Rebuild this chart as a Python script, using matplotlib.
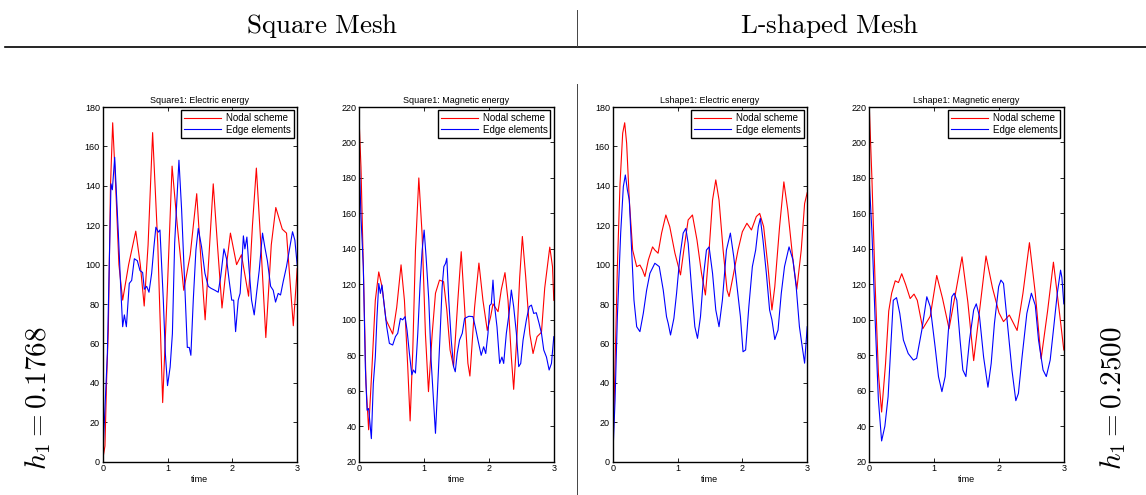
import matplotlib
matplotlib.use("Agg")
import matplotlib.pyplot as plt

plt.rcParams['mathtext.fontset'] = 'cm'
plt.rcParams['font.family'] = ['Liberation Sans', 'DejaVu Sans']

# ---- data (time, energy) ----
# Square mesh, electric energy
sq_el_nodal_t = [0, 0.035, 0.06, 0.087, 0.12, 0.154, 0.2, 0.25, 0.308, 0.4, 0.51, 0.58, 0.64, 0.7,
                 0.77, 0.85, 0.925, 1.0, 1.07, 1.15, 1.25, 1.35, 1.45, 1.52, 1.58, 1.64, 1.705, 1.77,
                 1.84, 1.91, 1.97, 2.065, 2.14, 2.25, 2.31, 2.37, 2.44, 2.516, 2.6, 2.67, 2.77, 2.835,
                 2.94, 3.0]
sq_el_nodal_v = [1, 8, 41, 67, 140, 172, 140, 100, 82, 100, 117, 100, 79, 110, 167, 110, 30, 90,
                 150, 120, 87, 105, 136, 100, 72, 105, 141, 110, 78, 100, 116, 100, 105, 84, 120,
                 149, 110, 63, 110, 129, 118, 116, 69, 98]
sq_el_edge_t = [0, 0.072, 0.128, 0.149, 0.185, 0.241, 0.277, 0.308, 0.334, 0.365, 0.41, 0.447,
                0.488, 0.534, 0.575, 0.616, 0.642, 0.678, 0.714, 0.755, 0.79, 0.82, 0.858, 0.883,
                0.935, 0.966, 1.0, 1.04, 1.075, 1.11, 1.176, 1.217, 1.258, 1.305, 1.335, 1.36,
                1.397, 1.438, 1.474, 1.525, 1.577, 1.628, 1.67, 1.73, 1.782, 1.82, 1.87, 1.91,
                1.95, 1.99, 2.02, 2.05, 2.09, 2.12, 2.17, 2.193, 2.224, 2.255, 2.296, 2.337,
                2.373, 2.414, 2.465, 2.5, 2.54, 2.59, 2.63, 2.666, 2.707, 2.743, 2.784, 2.835,
                2.887, 2.928, 2.964, 3.0]
sq_el_edge_v = [1, 55, 141, 138, 154.5, 116, 89, 68.5, 74.5, 68.5, 90.5, 92, 103, 102, 97, 96,
                87.5, 89, 86, 95.6, 109, 119, 116.5, 117.6, 82, 55, 38.6, 48, 65, 111, 153, 128,
                95.6, 58, 58, 54, 82, 107.5, 118.4, 109, 95.6, 89, 88, 87, 86, 94, 108, 103, 92,
                82, 82, 66, 82, 85.5, 114.6, 108, 114, 99, 82, 74.5, 85.4, 97, 116, 109, 102, 89,
                87, 81, 85.4, 84.6, 91.4, 99, 109, 116.7, 112.4, 99.8]

# Square mesh, magnetic energy
sq_mag_nodal_t = [0, 0.026, 0.062, 0.103, 0.144, 0.196, 0.247, 0.3, 0.35, 0.412, 0.515, 0.577,
                  0.644, 0.696, 0.747, 0.784, 0.825, 0.866, 0.918, 0.969, 1.02, 1.067, 1.124,
                  1.175, 1.237, 1.3, 1.35, 1.4, 1.454, 1.52, 1.572, 1.624, 1.675, 1.706, 1.778,
                  1.845, 1.907, 1.974, 2.026, 2.062, 2.14, 2.19, 2.247, 2.294, 2.345, 2.381,
                  2.433, 2.474, 2.515, 2.567, 2.63, 2.68, 2.742, 2.81, 2.86, 2.938, 2.98, 3.0]
sq_mag_nodal_v = [210, 186, 130, 64, 38, 73.6, 111, 127, 118.7, 100, 92, 107, 131, 111, 73.6, 43,
                  83, 139, 180, 148, 92, 59.5, 92, 115, 122.4, 121.5, 105.5, 83, 73.6, 111, 138.4,
                  107, 75.5, 68.3, 107, 132, 111, 94, 101.8, 109, 104.6, 117, 126.6, 111, 79,
                  60.8, 92, 124, 147, 124, 92, 81, 90.5, 93, 118, 141, 130, 111]
sq_mag_edge_t = [0, 0.026, 0.062, 0.093, 0.12, 0.144, 0.16, 0.186, 0.216, 0.247, 0.273, 0.3, 0.325,
                 0.35, 0.387, 0.423, 0.464, 0.515, 0.557, 0.593, 0.634, 0.67, 0.706, 0.737, 0.773,
                 0.81, 0.835, 0.866, 0.902, 0.938, 0.969, 1.0, 1.03, 1.072, 1.108, 1.144, 1.175,
                 1.211, 1.247, 1.278, 1.304, 1.33, 1.35, 1.38, 1.418, 1.454, 1.48, 1.51, 1.546,
                 1.588, 1.624, 1.69, 1.753, 1.789, 1.83, 1.88, 1.918, 1.95, 1.985, 2.01, 2.036,
                 2.062, 2.088, 2.124, 2.165, 2.2, 2.227, 2.268, 2.31, 2.345, 2.381, 2.423, 2.459,
                 2.49, 2.526, 2.577, 2.62, 2.655, 2.69, 2.73, 2.773, 2.81, 2.845, 2.887, 2.928,
                 2.964, 3.0]
sq_mag_edge_v = [190, 158, 130, 73.6, 49, 50, 43.5, 33, 64, 79, 101.8, 120.5, 114.9, 119.6, 107.4,
                 96, 86.7, 85.8, 90.5, 92.4, 100.8, 100, 101.8, 94, 81, 69, 71.7, 70, 92.4, 120.5,
                 139, 150.6, 135.6, 111, 77, 54.8, 36, 64, 92.4, 118.7, 130, 131.8, 134.7, 111,
                 88.6, 73.6, 70.7, 81, 88.6, 92.4, 100.8, 102, 101.8, 96, 88.6, 80, 84.8, 81,
                 92.4, 108, 109, 122.4, 107.4, 96, 75.4, 79, 75.4, 92.4, 103.6, 116.8, 107.4,
                 92.4, 73.6, 75.4, 88.6, 100, 107.4, 108.3, 103.6, 104, 98, 92.4, 83, 79, 71.7,
                 75.4, 90.5]

# L-shaped mesh, electric energy
ls_el_nodal_t = [0, 0.036, 0.072, 0.113, 0.154, 0.185, 0.215, 0.256, 0.308, 0.37, 0.42, 0.46,
                 0.497, 0.55, 0.615, 0.65, 0.7, 0.754, 0.82, 0.88, 0.96, 1.046, 1.097, 1.164,
                 1.23, 1.3, 1.37, 1.43, 1.487, 1.54, 1.59, 1.64, 1.703, 1.764, 1.795, 1.856,
                 1.933, 2.0, 2.07, 2.14, 2.215, 2.267, 2.328, 2.395, 2.456, 2.5, 2.574, 2.64, 2.7,
                 2.78, 2.84, 2.908, 2.96, 3.0]
ls_el_nodal_v = [1, 48, 99, 141, 166.7, 172, 161.6, 132.8, 107.4, 99, 99.8, 97.3, 94, 102.4, 109,
                 107.4, 105.8, 116, 125.2, 119.3, 105.8, 94.8, 107.4, 122.7, 125.2, 112.5, 95.6,
                 84.6, 107.4, 132.8, 143, 132.8, 107.4, 87, 83.8, 94, 107.4, 116.7, 121, 117.6,
                 124.4, 126, 119.3, 99, 77, 88.8, 119.3, 142, 127.7, 102.4, 87.5, 107.4, 131,
                 136.5]
ls_el_edge_t = [0, 0.036, 0.072, 0.123, 0.164, 0.195, 0.226, 0.256, 0.292, 0.328, 0.37, 0.42,
                0.472, 0.523, 0.574, 0.65, 0.718, 0.78, 0.83, 0.856, 0.892, 0.944, 0.985, 1.036,
                1.087, 1.128, 1.164, 1.215, 1.267, 1.308, 1.354, 1.405, 1.446, 1.487, 1.54, 1.59,
                1.64, 1.692, 1.754, 1.815, 1.867, 1.918, 1.97, 2.01, 2.05, 2.1, 2.154, 2.205,
                2.246, 2.277, 2.318, 2.37, 2.42, 2.456, 2.5, 2.55, 2.6, 2.65, 2.72, 2.78, 2.83,
                2.88, 2.923, 2.96, 3.0]
ls_el_edge_v = [1, 31, 73.6, 116, 139.6, 145.5, 138, 132.8, 107.4, 82, 68.5, 66, 75.3, 87, 95.6,
                100.7, 99, 87, 73.6, 70.2, 64.3, 72.8, 85.4, 104, 116, 118.4, 110.8, 88.8, 68.5,
                62.6, 73.6, 95.6, 107.4, 109, 95.6, 77, 68.5, 82, 107.4, 116, 104, 88.8, 73.6,
                55.8, 56.7, 78.7, 99, 107.4, 119.3, 123.5, 112.5, 95.6, 77, 72, 62, 66.8, 85.4,
                99, 109, 102.4, 88.8, 68.5, 58.4, 50, 68.5]

# L-shaped mesh, magnetic energy
ls_mag_nodal_t = [0, 0.04, 0.09, 0.14, 0.19, 0.25, 0.3, 0.345, 0.4, 0.45, 0.5, 0.56, 0.63, 0.69,
                  0.74, 0.825, 0.94, 1.04, 1.13, 1.23, 1.33, 1.43, 1.52, 1.61, 1.7, 1.8, 1.9, 2.0,
                  2.07, 2.16, 2.28, 2.37, 2.47, 2.56, 2.65, 2.75, 2.84, 2.93, 3.0]
ls_mag_nodal_v = [220, 180, 120, 70, 48, 75, 105, 115, 122, 121, 126, 120, 112, 114.5, 111, 95,
                  102, 125, 112, 95, 115, 135.5, 110, 77, 105, 136, 118, 104, 99, 102.7, 94, 115,
                  143.5, 115, 78, 105, 132.5, 105, 83]
ls_mag_edge_t = [0, 0.04, 0.09, 0.14, 0.19, 0.24, 0.29, 0.37, 0.42, 0.47, 0.526, 0.6, 0.68, 0.73,
                 0.81, 0.887, 0.94, 1.015, 1.067, 1.12, 1.17, 1.22, 1.273, 1.31, 1.35, 1.4, 1.443,
                 1.49, 1.546, 1.61, 1.65, 1.7, 1.763, 1.83, 1.88, 1.93, 1.995, 2.03, 2.07, 2.12,
                 2.2, 2.26, 2.3, 2.356, 2.43, 2.5, 2.56, 2.61, 2.68, 2.73, 2.79, 2.845, 2.9, 2.95,
                 2.97, 3.0]
ls_mag_edge_v = [178, 150, 100, 55, 31.7, 40, 56.6, 111, 112.5, 103.6, 88.6, 81, 77.3, 78.3, 94.2,
                 113, 107.4, 84.8, 68, 59.5, 68, 94, 113, 115, 111, 88.6, 71.7, 68, 88.6, 105.6,
                 109, 101.8, 79, 62, 75.4, 98, 118.7, 122.4, 120.5, 101.8, 71.7, 54.4, 58.5, 79,
                 103.6, 115, 108.2, 88.6, 71.7, 68, 77.3, 96, 115, 128, 124, 109]

panels = [
    ("Square1: Electric energy", (0, 180), sq_el_nodal_t, sq_el_nodal_v, sq_el_edge_t, sq_el_edge_v),
    ("Square1: Magnetic energy", (20, 220), sq_mag_nodal_t, sq_mag_nodal_v, sq_mag_edge_t, sq_mag_edge_v),
    ("Lshape1: Electric energy", (0, 180), ls_el_nodal_t, ls_el_nodal_v, ls_el_edge_t, ls_el_edge_v),
    ("Lshape1: Magnetic energy", (20, 220), ls_mag_nodal_t, ls_mag_nodal_v, ls_mag_edge_t, ls_mag_edge_v),
]

W, H = 1146, 495
fig = plt.figure(figsize=(W / 100, H / 100), dpi=100)

lefts = [102.7, 359.3, 612.7, 869.3]
for left, (title, ylim, nt, nv, et, ev) in zip(lefts, panels):
    ax = fig.add_axes([left / W, (H - 461.7) / H, 194.5 / W, 354.7 / H])
    ax.plot(nt, nv, color='#ff0000', lw=0.8, label='Nodal scheme')
    ax.plot(et, ev, color='#0000ff', lw=0.8, label='Edge elements')
    ax.set_xlim(0, 3)
    ax.set_ylim(*ylim)
    ax.set_xticks([0, 1, 2, 3])
    ax.set_yticks(range(ylim[0], ylim[1] + 1, 20))
    ax.tick_params(direction='in', top=True, right=True, labelsize=6.5, length=3, width=0.6, pad=2)
    for s in ax.spines.values():
        s.set_linewidth(1.0)
    ax.set_title(title, fontsize=6.5, pad=3)
    ax.set_xlabel('time', fontsize=6.5, labelpad=1)
    leg = ax.legend(loc='upper right', fontsize=7, fancybox=False, framealpha=1,
                    edgecolor='black', handlelength=3.8, borderpad=0.3, labelspacing=0.15,
                    handletextpad=0.5, borderaxespad=0.35)
    leg.get_frame().set_linewidth(1.0)

# header and separators
fig.add_artist(plt.Line2D([5 / W, 1], [1 - 47 / H] * 2, color='black', lw=1.2))
fig.add_artist(plt.Line2D([577 / W] * 2, [1 - 10 / H, 1 - 46 / H], color='#444444', lw=0.7))
fig.add_artist(plt.Line2D([577 / W] * 2, [1 - 84 / H, 0], color='#444444', lw=0.7))
fig.text(322 / W, 1 - 26 / H, r'$\mathrm{Square\ Mesh}$', ha='center', va='center', fontsize=19.5)
fig.text(830 / W, 1 - 26 / H, r'$\mathrm{L}$-$\mathrm{shaped\ Mesh}$', ha='center', va='center', fontsize=19.5)
fig.text(38 / W, 1 - 398 / H, r'$h_1 = 0.1768$', ha='center', va='center', rotation=90, fontsize=21)
fig.text(1113 / W, 1 - 398 / H, r'$h_1 = 0.2500$', ha='center', va='center', rotation=90, fontsize=21)

fig.savefig('out.png', dpi=100)
